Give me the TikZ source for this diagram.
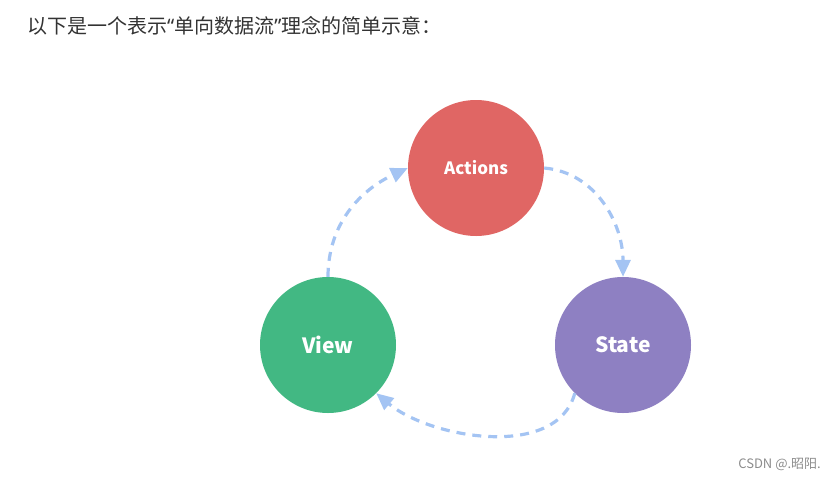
\documentclass[tikz,border=0pt]{standalone}
\usepackage{fontspec}
\setmainfont{Noto Sans CJK SC}
\newfontfamily\cjk{Noto Sans CJK SC}
\newfontfamily\quotefont{Noto Sans}
\usepackage{tikz}
\usetikzlibrary{arrows.meta}

\definecolor{actred}{RGB}{224,102,100}
\definecolor{viewgreen}{RGB}{66,184,131}
\definecolor{statepurple}{RGB}{142,128,194}
\definecolor{flowblue}{RGB}{164,196,243}
\definecolor{titlegray}{RGB}{51,51,51}

\begin{document}
\begin{tikzpicture}[x=1pt, y=-1pt,
    % --- 样式定义 ---
    ball/.style={circle, minimum size=136pt, inner sep=0pt, text=white, font=\cjk\bfseries\fontsize{21}{24}\selectfont},
    % 数据流箭头 (浅蓝虚线)
    flow/.style={draw=flowblue, line width=3.2pt, dash pattern=on 9pt off 7pt,
        -{Triangle[length=17pt, width=15pt]}},
    % 文字样式
    caption/.style={font=\cjk\fontsize{20}{24}\selectfont, text=titlegray, inner sep=0pt},
    mark_text/.style={font=\cjk\fontsize{13}{15}\selectfont, text=black!45, inner sep=0pt}
]
    \useasboundingbox (0,0) rectangle (835,480);

    % 标题
    \node[caption, anchor=base west] (title) at (27,33)
        {以下是一个表示{\quotefont“}单向数据流{\quotefont”}理念的简单示意：};

    % =========================================
    % 三个圆: Actions / View / State
    % =========================================
    \node[ball, fill=actred, font=\cjk\bfseries\fontsize{17}{20}\selectfont] (actions) at (476,168) {Actions};
    \node[ball, fill=viewgreen] (view) at (328,345) {View};
    \node[ball, fill=statepurple] (state) at (623,345) {State};

    % =========================================
    % 单向数据流 (顺时针)
    % =========================================
    \draw[flow] (view.north) to[out=90, in=205] (actions.west);
    \draw[flow] (actions.east) to[out=-5, in=90] (state.north);
    \draw[flow] (state.-135) to[out=-105, in=-40, looseness=0.9] (view.-45);

    % 水印
    \node[mark_text, anchor=east] (watermark) at (821,464) {CSDN @.昭阳.};

\end{tikzpicture}
\end{document}
